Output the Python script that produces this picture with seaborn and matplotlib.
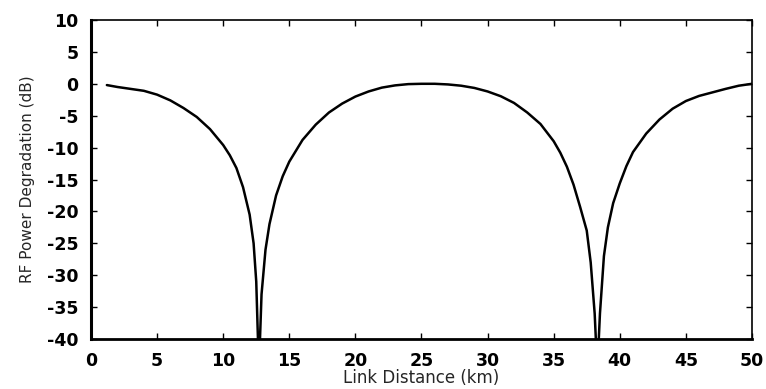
import matplotlib
matplotlib.use("Agg")
import matplotlib.pyplot as plt
import seaborn as sns
import pandas as pd

distance_km = [1.2, 2, 3, 4, 5, 6, 7, 8, 9, 10, 10.5, 11, 11.5, 12, 12.3, 12.5, 12.7,
               12.9, 13.2, 13.5, 14, 14.5, 15, 16, 17, 18, 19, 20, 21, 22, 23, 24, 25,
               26, 27, 28, 29, 30, 31, 32, 33, 34, 35, 35.5, 36, 36.5, 37, 37.5, 37.8,
               38.1, 38.3, 38.5, 38.8, 39.1, 39.5, 40, 40.5, 41, 42, 43, 44, 45, 46,
               47, 48, 49, 50]
degradation_db = [-0.2, -0.5, -0.8, -1.1, -1.7, -2.6, -3.8, -5.2, -7.1, -9.6, -11.2,
                  -13.2, -16.2, -20.5, -25, -31, -45, -33, -26, -22, -17.5, -14.5,
                  -12.2, -8.8, -6.4, -4.5, -3.1, -2.0, -1.2, -0.6, -0.25, -0.05, 0,
                  0, -0.1, -0.3, -0.65, -1.2, -1.95, -3.0, -4.5, -6.3, -9.0, -10.8,
                  -13.0, -15.8, -19.3, -23, -28, -36, -45, -36, -27, -22.5, -18.7,
                  -15.6, -12.9, -10.7, -7.8, -5.6, -3.9, -2.7, -1.9, -1.35, -0.8,
                  -0.3, 0]
x_ticks = [0, 5, 10, 15, 20, 25, 30, 35, 40, 45, 50]
y_ticks = [10, 5, 0, -5, -10, -15, -20, -25, -30, -35, -40]

df = pd.DataFrame({"Link Distance (km)": distance_km,
                   "RF Power Degradation (dB)": degradation_db})

sns.set_style("ticks")
plt.rcParams["font.family"] = ["DejaVu Sans"]
plt.rcParams["axes.unicode_minus"] = False

fig = plt.figure(figsize=(7.66, 3.89), dpi=100)
ax = fig.add_axes([0.1188, 0.1285, 0.8629, 0.8201])
sns.lineplot(data=df, x="Link Distance (km)", y="RF Power Degradation (dB)",
             ax=ax, color="black", linewidth=1.8, sort=False)
ax.set_xlim(0, 50)
ax.set_ylim(-40, 10)
ax.set_xticks(x_ticks)
ax.set_yticks(y_ticks)
ax.tick_params(direction="in", top=True, right=True, length=4, width=1,
               labelsize=12.5, colors="black")
ax.tick_params(axis="x", pad=9)
ax.tick_params(axis="y", pad=9)
for lab in ax.get_xticklabels() + ax.get_yticklabels():
    lab.set_fontweight("bold")
for side, lw in [("left", 2.2), ("bottom", 2.0), ("right", 1.2), ("top", 1.2)]:
    ax.spines[side].set_visible(True)
    ax.spines[side].set_linewidth(lw)
    ax.spines[side].set_color("black")
ax.set_xlabel("Link Distance (km)", fontsize=12)
ax.set_ylabel("RF Power Degradation (dB)", fontsize=11)
ax.xaxis.set_label_coords(0.5, -0.094)
ax.yaxis.set_label_coords(-0.085, 0.5)
fig.savefig("out.png", dpi=100)
